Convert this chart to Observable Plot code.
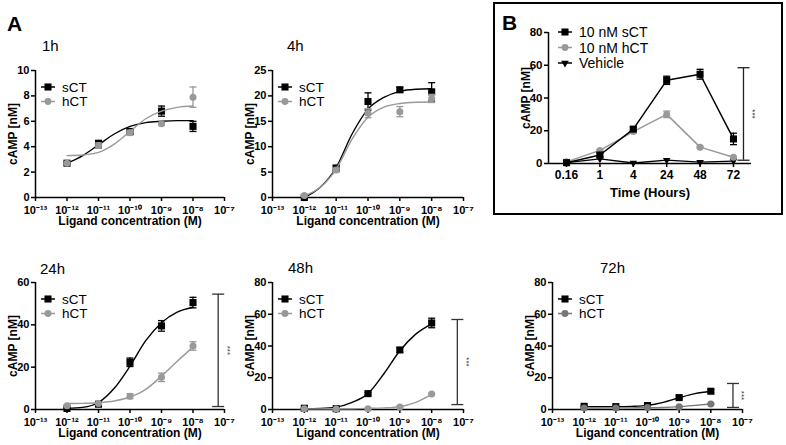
<!DOCTYPE html>
<html><head><meta charset="utf-8">
<script src="https://cdn.jsdelivr.net/npm/d3@7"></script>
<script src="https://cdn.jsdelivr.net/npm/@observablehq/plot@0.6"></script>
<style>
html,body{margin:0;padding:0;background:#fff;}
#page{position:relative;width:786px;height:445px;overflow:hidden;font-family:"Liberation Sans",Arial,sans-serif;}
#page .panel{position:absolute;}
</style></head><body><div id="page"></div>
<script>
// ---------- data ----------
const doses = [1e-12, 1e-11, 1e-10, 1e-9, 1e-8];
const curveDoses = [1e-12, 3.16e-12, 1e-11, 3.16e-11, 1e-10, 3.16e-10, 1e-9, 3.16e-9, 1e-8];
const xTickValues = [1e-13, 1e-12, 1e-11, 1e-10, 1e-9, 1e-8, 1e-7];
const panelTitles = ["1h", "4h", "24h", "48h", "72h"];
const seriesNames = ["sCT", "hCT"];

// 1h
const sct1h = [2.7, 4.2, 5.2, 6.8, 5.6];
const sct1hErr = [0.1, 0.3, 0.2, 0.4, 0.4];
const hct1h = [2.7, 4.1, 5.1, 5.8, 7.9];
const hct1hErr = [0.1, 0.2, 0.2, 0.1, 0.8];
const sct1hFit = [2.7, 3.3, 4.15, 5.0, 5.6, 5.9, 6.0, 6.05, 6.05];
const hct1hFit = [3.3, 3.35, 3.55, 4.2, 5.2, 6.2, 6.8, 7.1, 7.2];
// 4h
const sct4h = [0.0, 5.8, 18.9, 21.2, 20.8];
const sct4hErr = [0.3, 0.5, 1.7, 0.5, 1.8];
const hct4h = [0.4, 5.4, 16.6, 16.9, 19.5];
const hct4hErr = [0.2, 0.4, 0.9, 1.0, 0.8];
const sct4hFit = [0.0, 2.0, 5.9, 12.5, 17.4, 19.7, 20.9, 21.3, 21.4];
const hct4hFit = [0.3, 2.0, 5.6, 11.5, 15.8, 17.8, 18.5, 18.75, 18.8];
// 24h
const sct24h = [0.5, 2.5, 22.3, 39.5, 50.5];
const sct24hErr = [0.3, 0.5, 2.0, 2.5, 2.5];
const hct24h = [1.8, 2.8, 6.3, 15.2, 30.0];
const hct24hErr = [0.3, 0.3, 1.2, 2.0, 2.0];
const sct24hFit = [0.5, 1.0, 3.3, 10.0, 20.5, 32.5, 41.0, 46.0, 48.3];
const hct24hFit = [2.8, 2.9, 3.2, 4.0, 5.9, 9.5, 15.8, 22.8, 29.5];
// 48h
const sct48h = [0.8, 0.5, 10.0, 37.5, 54.5];
const sct48hErr = [0.3, 0.3, 0.8, 1.5, 3.0];
const hct48h = [0.5, 0.3, 0.5, 1.5, 9.8];
const hct48hErr = [0.2, 0.2, 0.2, 0.3, 0.5];
const sct48hFit = [0.5, 0.7, 1.5, 4.5, 10.0, 22.5, 37.0, 47.5, 54.0];
const hct48hFit = [0.4, 0.4, 0.45, 0.5, 0.7, 1.0, 1.8, 4.5, 9.5];
// 72h
const sct72h = [2.0, 1.8, 2.5, 7.5, 11.5];
const sct72hErr = [0.3, 0.3, 0.4, 0.8, 1.0];
const hct72h = [1.0, 1.0, 1.2, 1.8, 3.5];
const hct72hErr = [0.2, 0.2, 0.2, 0.3, 0.4];
const sct72hFit = [1.8, 1.8, 1.8, 2.0, 2.6, 4.5, 7.4, 10.0, 11.5];
const hct72hFit = [0.9, 0.95, 1.0, 1.05, 1.1, 1.3, 1.8, 2.6, 3.5];

// significance brackets (x = concentration, lo/hi = cAMP)
const sig24h = {x: 6.3e-8, lo: 1.4, hi: 54.5};
const sig48h = {x: 6.4e-8, lo: 3.1, hi: 56.7};
const sig72h = {x: 5.0e-8, lo: 1.3, hi: 16.4};

// Panel B
const times = ["0.16", "1", "4", "24", "48", "72"];
const bSeriesNames = ["10 nM sCT", "10 nM hCT", "Vehicle"];
const bSct = [0.5, 5.2, 21.0, 50.8, 54.5, 15.0];
const bSctErr = [0.3, 1.2, 1.0, 2.5, 3.0, 3.5];
const bHct = [1.0, 8.0, 19.5, 30.0, 10.0, 3.8];
const bHctErr = [0.3, 0.5, 1.0, 2.0, 0.5, 0.5];
const bVeh = [0.5, 2.8, 0.3, 2.0, 0.8, 1.5];
const sigB = {x: 5.3, lo: 2.0, hi: 58.5};

// ---------- helpers ----------
const FONT = '"Liberation Sans", Arial, Helvetica, sans-serif';
const SUP = {"-": "\u207B", "0": "\u2070", "1": "\u00B9", "2": "\u00B2", "3": "\u00B3", "4": "\u2074", "5": "\u2075", "6": "\u2076", "7": "\u2077", "8": "\u2078", "9": "\u2079"};
const fmtPow = d => "10" + String(Math.round(Math.log10(d))).split("").map(c => SUP[c]).join("");
const rows = (xs, ys, es) => xs.map((x, i) => ({x, y: ys[i], lo: ys[i] - (es ? es[i] : 0), hi: ys[i] + (es ? es[i] : 0)}));
const cap = w => ({draw(ctx) { ctx.moveTo(-w, 0); ctx.lineTo(w, 0); }});
const page = document.getElementById("page");
const STYLE = {fontFamily: FONT, background: "transparent", overflow: "visible", maxWidth: "none"};

function place(node, left, top) {
  const d = document.createElement("div");
  d.className = "panel";
  d.style.left = left + "px";
  d.style.top = top + "px";
  d.appendChild(node);
  page.appendChild(d);
}

function addLegend(svg, x, y, gap, fontSize, items) {
  const g = d3.select(svg).append("g").attr("font-family", FONT).attr("font-size", fontSize).attr("text-anchor", "start");
  items.forEach((it, i) => {
    const cy = y + i * gap;
    g.append("line").attr("x1", x - 7).attr("x2", x + 7).attr("y1", cy).attr("y2", cy)
      .attr("stroke", it.color).attr("stroke-width", 1.5);
    g.append("path").attr("transform", `translate(${x},${cy})${it.rotate ? ` rotate(${it.rotate})` : ""}`)
      .attr("d", d3.symbol(it.symbol, it.size)()).attr("fill", it.color);
    g.append("text").attr("x", x + 14).attr("y", cy).attr("dy", "0.36em").attr("text-anchor", "start")
      .attr("fill", "black").text(it.label);
  });
}

function errorMarks(data, color, capW, sw) {
  return [
    Plot.ruleX(data, {x: "x", y1: "lo", y2: "hi", stroke: color, strokeWidth: sw}),
    Plot.dot(data, {x: "x", y: "hi", symbol: cap(capW), stroke: color, fill: "none", strokeWidth: sw}),
    Plot.dot(data, {x: "x", y: "lo", symbol: cap(capW), stroke: color, fill: "none", strokeWidth: sw})
  ];
}

function sigMarks(sig, capW, color) {
  return [
    Plot.ruleX([sig], {x: "x", y1: "lo", y2: "hi", stroke: color, strokeWidth: 1.3}),
    Plot.dot([sig], {x: "x", y: "hi", symbol: cap(capW), stroke: color, fill: "none", strokeWidth: 1.3}),
    Plot.dot([sig], {x: "x", y: "lo", symbol: cap(capW), stroke: color, fill: "none", strokeWidth: 1.3}),
    Plot.text([sig], {x: "x", y: d => (d.lo + d.hi) / 2, text: () => "***", rotate: 90, dx: 9, fontSize: 8, fill: color})
  ];
}

function dosePanel(cfg) {
  const {L, R, T, B, yMax, yTicks, sct, sctErr, hct, hctErr, sctFit, hctFit, hctColor, sig} = cfg;
  const ml = 40, mr = 28, mt = 12, mb = 36;
  const sRows = rows(doses, sct, sctErr), hRows = rows(doses, hct, hctErr);
  const sFit = rows(curveDoses, sctFit), hFit = rows(curveDoses, hctFit);
  const marks = [
    Plot.ruleX([1e-13], {stroke: "black", strokeWidth: 1.5}),
    Plot.ruleY([0], {stroke: "black", strokeWidth: 1.5}),
    Plot.axisX({ticks: xTickValues, tickFormat: fmtPow, tickSize: 4, tickPadding: 4.5, fontSize: 11, fontWeight: "bold", strokeWidth: 1.5, label: null}),
    Plot.axisY({ticks: yTicks, tickSize: 4, tickPadding: 2, fontSize: 11, fontWeight: "bold", strokeWidth: 1.5, label: null}),
    Plot.line(sFit, {x: "x", y: "y", stroke: "black", strokeWidth: 1.4, curve: "monotone-x"}),
    ...errorMarks(sRows, "black", 3.5, 1.3),
    Plot.dot(sRows, {x: "x", y: "y", symbol: "square", r: 4, fill: "black"}),
    Plot.line(hFit, {x: "x", y: "y", stroke: hctColor, strokeWidth: 1.4, curve: "monotone-x"}),
    ...errorMarks(hRows, hctColor, 3.5, 1.3),
    Plot.dot(hRows, {x: "x", y: "y", symbol: "circle", r: 3.5, fill: hctColor}),
    Plot.text(["Ligand concentration (M)"], {frameAnchor: "bottom", lineAnchor: "middle", textAnchor: "middle", dy: 24, fontSize: 12, fontWeight: "bold", fill: "black"}),
    Plot.text(["cAMP [nM]"], {frameAnchor: "left", lineAnchor: "middle", textAnchor: "middle", dx: -22, rotate: -90, fontSize: 12, fontWeight: "bold", fill: "black"})
  ];
  if (sig) marks.push(...sigMarks(sig, 6, "#333"));
  const svg = Plot.plot({
    width: (R - L) + ml + mr, height: (B - T) + mt + mb,
    marginLeft: ml, marginRight: mr, marginTop: mt, marginBottom: mb,
    x: {type: "log", domain: [1e-13, 1e-7]},
    y: {domain: [0, yMax]},
    style: STYLE,
    marks
  });
  addLegend(svg, ml + 13, mt + 17, 14.5, 13.5, [
    {label: seriesNames[0], color: "black", symbol: d3.symbolSquare, size: 50},
    {label: seriesNames[1], color: hctColor, symbol: d3.symbolCircle, size: 38}
  ]);
  place(svg, L - ml, T - mt);
}

// ---------- overlay: box, panel letters, titles ----------
const overlay = d3.select(page).append("svg")
  .attr("width", 786).attr("height", 445)
  .style("position", "absolute").style("left", "0px").style("top", "0px")
  .attr("font-family", FONT);
overlay.append("rect").attr("x", 494).attr("y", 3).attr("width", 288).attr("height", 211)
  .attr("fill", "none").attr("stroke", "black").attr("stroke-width", 2);
overlay.append("text").attr("x", 7).attr("y", 31).attr("font-size", 21).attr("font-weight", "bold").text("A");
overlay.append("text").attr("x", 502).attr("y", 30).attr("font-size", 21).attr("font-weight", "bold").text("B");
const titlePos = [[42, 51], [287, 51], [40, 274], [288, 273], [600, 273]];
panelTitles.forEach((t, i) => overlay.append("text").attr("x", titlePos[i][0]).attr("y", titlePos[i][1]).attr("font-size", 15).text(t));

// ---------- dose-response panels ----------
dosePanel({L: 35, R: 224, T: 70, B: 197, yMax: 10, yTicks: [0, 2, 4, 6, 8, 10],
  sct: sct1h, sctErr: sct1hErr, hct: hct1h, hctErr: hct1hErr, sctFit: sct1hFit, hctFit: hct1hFit, hctColor: "#999"});
dosePanel({L: 272, R: 463, T: 70, B: 197, yMax: 25, yTicks: [0, 5, 10, 15, 20, 25],
  sct: sct4h, sctErr: sct4hErr, hct: hct4h, hctErr: hct4hErr, sctFit: sct4hFit, hctFit: hct4hFit, hctColor: "#999"});
dosePanel({L: 35, R: 224, T: 282, B: 409, yMax: 60, yTicks: [0, 20, 40, 60],
  sct: sct24h, sctErr: sct24hErr, hct: hct24h, hctErr: hct24hErr, sctFit: sct24hFit, hctFit: hct24hFit, hctColor: "#999", sig: sig24h});
dosePanel({L: 272, R: 463, T: 282, B: 409, yMax: 80, yTicks: [0, 20, 40, 60, 80],
  sct: sct48h, sctErr: sct48hErr, hct: hct48h, hctErr: hct48hErr, sctFit: sct48hFit, hctFit: hct48hFit, hctColor: "#999", sig: sig48h});
dosePanel({L: 552, R: 742, T: 282, B: 409, yMax: 80, yTicks: [0, 20, 40, 60, 80],
  sct: sct72h, sctErr: sct72hErr, hct: hct72h, hctErr: hct72hErr, sctFit: sct72hFit, hctFit: hct72hFit, hctColor: "#777", sig: sig72h});

// ---------- panel B (time course) ----------
(function () {
  const L = 548, R = 751, T = 32, B = 163;
  const ml = 40, mr = 30, mt = 12, mb = 42;
  const idx = times.map((t, i) => i);
  const sRows = rows(idx, bSct, bSctErr), hRows = rows(idx, bHct, bHctErr), vRows = rows(idx, bVeh);
  const svg = Plot.plot({
    width: (R - L) + ml + mr, height: (B - T) + mt + mb,
    marginLeft: ml, marginRight: mr, marginTop: mt, marginBottom: mb,
    x: {domain: [-0.54, times.length - 1 + 0.54]},
    y: {domain: [0, 80]},
    style: STYLE,
    marks: [
      Plot.ruleX([-0.54], {stroke: "black", strokeWidth: 1.5}),
      Plot.ruleY([0], {stroke: "black", strokeWidth: 1.5}),
      Plot.axisX({ticks: idx, tickFormat: i => times[i], tickSize: 4, tickPadding: 3, fontSize: 12, fontWeight: "bold", strokeWidth: 1.5, label: null}),
      Plot.axisY({ticks: [0, 20, 40, 60, 80], tickSize: 4, tickPadding: 2, fontSize: 11.5, fontWeight: "bold", strokeWidth: 1.5, label: null}),
      Plot.line(vRows, {x: "x", y: "y", stroke: "black", strokeWidth: 1.3}),
      Plot.dot(vRows, {x: "x", y: "y", symbol: "triangle", rotate: 180, r: 2.8, fill: "black"}),
      Plot.line(hRows, {x: "x", y: "y", stroke: "#999", strokeWidth: 1.5}),
      ...errorMarks(hRows, "#999", 3.5, 1.3),
      Plot.dot(hRows, {x: "x", y: "y", symbol: "circle", r: 3.5, fill: "#999"}),
      Plot.line(sRows, {x: "x", y: "y", stroke: "black", strokeWidth: 1.5}),
      ...errorMarks(sRows, "black", 3.5, 1.3),
      Plot.dot(sRows, {x: "x", y: "y", symbol: "square", r: 4, fill: "black"}),
      ...sigMarks(sigB, 6, "#222"),
      Plot.text(["Time (Hours)"], {frameAnchor: "bottom", lineAnchor: "middle", textAnchor: "middle", dy: 29, fontSize: 13, fontWeight: "bold", fill: "black"}),
      Plot.text(["cAMP [nM]"], {frameAnchor: "left", lineAnchor: "middle", textAnchor: "middle", dx: -22, rotate: -90, fontSize: 12, fontWeight: "bold", fill: "black"})
    ]
  });
  addLegend(svg, ml + 17, mt, 15.5, 14, [
    {label: bSeriesNames[0], color: "black", symbol: d3.symbolSquare, size: 50},
    {label: bSeriesNames[1], color: "#999", symbol: d3.symbolCircle, size: 38},
    {label: bSeriesNames[2], color: "black", symbol: d3.symbolTriangle, size: 25, rotate: 180}
  ]);
  place(svg, L - ml, T - mt);
})();
</script></body></html>
